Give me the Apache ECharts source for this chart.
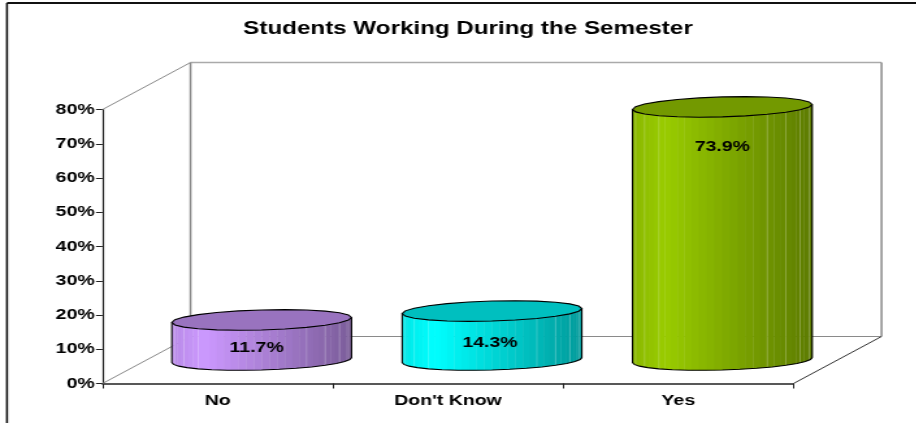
<!DOCTYPE html>
<html><head><meta charset="utf-8">
<style>html,body{margin:0;padding:0;background:#fff;overflow:hidden}
#c{position:absolute;left:0;top:0;width:705.4px;height:423px;transform-origin:0 0;transform:scaleX(1.3)}</style>
<script src="https://cdn.jsdelivr.net/npm/echarts@6/dist/echarts.min.js"></script>
</head><body><div id="c"></div>
<script>
const categories = ["No", "Don't Know", "Yes"];
const values = [11.7, 14.3, 73.9];
const valueLabels = ["11.7%", "14.3%", "73.9%"];
const colors = [[204,153,255],[0,255,255],[153,204,0]];
const S = 1.3;
const X = v => v / S;
const gLeft = X(102.5), gRight = X(793.5), gTop = 109.5, gBottom = 383.5;
const DX = X(88), DY = 47;
function shade(c, k){ return 'rgb(' + c.map(v => Math.round(v * k)).join(',') + ')'; }
function profile(t){
  return t < 0.18 ? 0.9 + 0.1 * t / 0.18 : 1 - 0.4 * (t - 0.18) / 0.82;
}
function ringPts(cx, cy, a, b, tilt, from, to, n){
  const p = [];
  for (let i = 0; i <= n; i++){
    const th = from + (to - from) * i / n;
    p.push([cx + a * Math.cos(th), cy + b * Math.sin(th) - tilt * Math.cos(th)]);
  }
  return p;
}
function renderCyl(params, api){
  const i = api.value(0), v = api.value(1);
  const base = api.coord([i, 0]), topP = api.coord([i, v]);
  const a = api.size([1, 0])[0] * 0.39, b = 10, tilt = 2.5;
  const cx = base[0] + DX / 2, by = base[1] - DY / 2, ty = topP[1] - DY / 2;
  const col = colors[i];
  const kids = [];
  const n = 36;
  for (let k = 0; k < n; k++){
    const th0 = Math.PI - Math.PI * k / n, th1 = Math.PI - Math.PI * (k + 1) / n;
    const x0 = cx + a * Math.cos(th0), x1 = cx + a * Math.cos(th1);
    const tm = ((x0 + x1) / 2 - (cx - a)) / (2 * a);
    const yb0 = by + b * Math.sin(th0) - tilt * Math.cos(th0), yb1 = by + b * Math.sin(th1) - tilt * Math.cos(th1);
    const yt0 = ty - tilt * Math.cos(th0), yt1 = ty - tilt * Math.cos(th1);
    const stripe = (k % 3 === 0) && (k < 12 || k > 22);
    kids.push({type:'polygon', shape:{points:[[x0,yt0],[x1+0.4,yt1],[x1+0.4,yb1],[x0,yb0]]},
      style:{fill:shade(col, profile(tm))}, silent:true});
    if (stripe) kids.push({type:'line', shape:{x1:x0,y1:yt0,x2:x0,y2:yb0},
      style:{stroke:'rgba(255,255,255,0.3)', lineWidth:0.7}, silent:true});
  }
  const lower = ringPts(cx, by, a, b, tilt, Math.PI, 0, 16);
  const outline = [[cx - a, ty + tilt]].concat(lower, [[cx + a, ty - tilt]]);
  kids.push({type:'polyline', shape:{points:outline}, style:{stroke:'#000', lineWidth:1.1, fill:null}, silent:true});
  kids.push({type:'polygon', shape:{points:ringPts(cx, ty, a, b, tilt, 0, 2 * Math.PI, 24)},
    style:{fill:shade(col, 0.75), stroke:'#000', lineWidth:1.1}, silent:true});
  const lblY = i === 2 ? ty + 40 : (ty + by) / 2 + 7.5;
  const lblX = cx - X([5, 2, 0][i]);
  kids.push({type:'text', style:{x:lblX, y:lblY, text:valueLabels[i], fill:'#000', align:'center', verticalAlign:'middle',
    font:'bold 15px "Liberation Sans", Arial, sans-serif'}, silent:true, z2:10});
  return {type:'group', children:kids};
}
function renderWalls(params, api){
  if (params.dataIndex !== 0) return null;
  const band = api.size([1, 0])[0];
  const c0 = api.coord([0, 0]), c2 = api.coord([2, 80]);
  const xl = c0[0] - band / 2, xr = c2[0] + band / 2, yb = c0[1], yt = c2[1];
  const g = '#8a8a8a';
  const L = (x1,y1,x2,y2,c,w) => ({type:'line', shape:{x1,y1,x2,y2}, style:{stroke:c||g, lineWidth:w||1}, silent:true});
  return {type:'group', children:[
    L(xl, yt, xl+DX, yt-DY),
    L(xl, yb, xl+DX, yb-DY),
    L(xl+DX, yt-DY, xr+DX, yt-DY, '#aaa', 1.5),
    L(xl+DX, yt-DY, xl+DX, yb-DY, g, 1.5),
    L(xr+DX, yt-DY, xr+DX, yb-DY, g, 1.5),
    L(xl+DX, yb-DY, xr+DX, yb-DY, g, 1.2),
    L(xr, yb, xr+DX, yb-DY, '#333', 1)
  ]};
}
const font = '"Liberation Sans", Arial, sans-serif';
const chart = echarts.init(document.getElementById('c'), null, {renderer:'canvas'});
chart.setOption({
  animation:false,
  backgroundColor:'#fff',
  title:{text:'Students Working During the Semester', left:X(461.5), top:14.5, textAlign:'center',
    textStyle:{fontFamily:font, fontWeight:'bold', fontSize:18.6, color:'#000'}},
  grid:{left:gLeft, top:gTop, width:gRight-gLeft, height:gBottom-gTop, containLabel:false},
  xAxis:{type:'category', data:categories, boundaryGap:true,
    axisLine:{lineStyle:{color:'#222', width:1.5}}, axisTick:{show:true, length:5, alignWithLabel:false, lineStyle:{color:'#222'}},
    axisLabel:{fontFamily:font, fontWeight:'bold', fontSize:15, color:'#000', margin:9.5}, splitLine:{show:false}},
  yAxis:{type:'value', min:0, max:80, interval:10,
    axisLine:{show:true, lineStyle:{color:'#222', width:1.2}}, axisTick:{show:true, length:5, lineStyle:{color:'#222'}},
    axisLabel:{fontFamily:font, fontWeight:'bold', fontSize:15, color:'#000', margin:6, formatter:'{value}%'}, splitLine:{show:false}},
  graphic:[
    {type:'line', shape:{x1:X(7),y1:3,x2:X(7),y2:423}, style:{stroke:'#111',lineWidth:1.6}, silent:true},
    {type:'line', shape:{x1:X(7),y1:3,x2:X(917),y2:3}, style:{stroke:'#111',lineWidth:2}, silent:true}
  ],
  series:[
    {type:'custom', renderItem:renderWalls, data:values.map((v,i)=>[i,v]), z:1, encode:{x:0,y:1}, silent:true, clip:false},
    {type:'custom', renderItem:renderCyl, data:values.map((v,i)=>[i,v]), z:3, encode:{x:0,y:1}, silent:true, clip:false}
  ]
});
</script></body></html>
